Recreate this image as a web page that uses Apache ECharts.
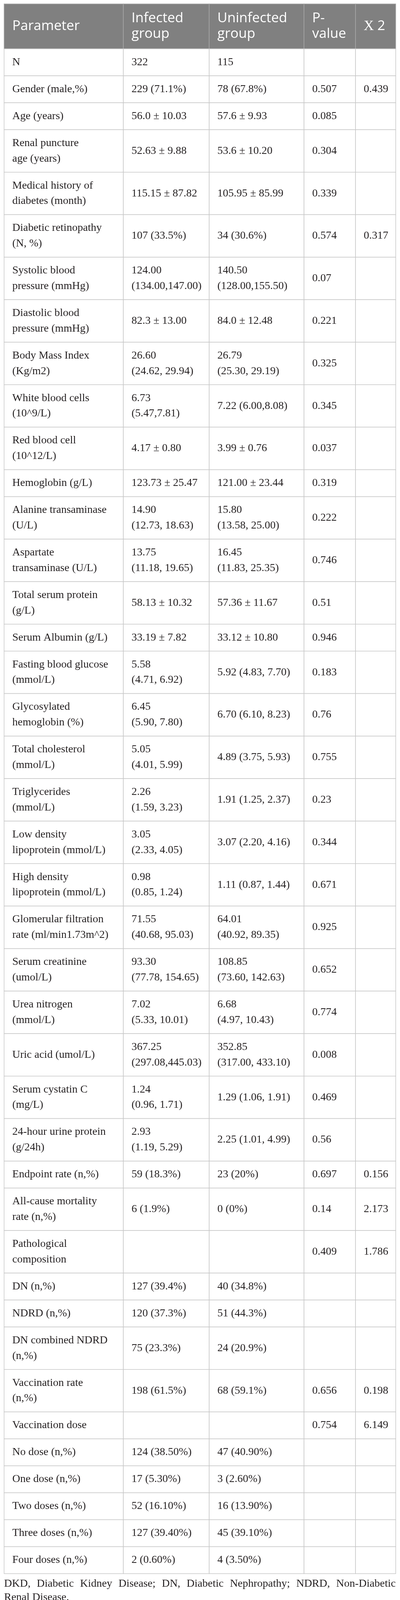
<!DOCTYPE html>
<html>
<head>
<meta charset="utf-8">
<script src="https://cdn.jsdelivr.net/npm/echarts@6/dist/echarts.min.js"></script>
<style>
  html, body { margin: 0; padding: 0; background: #fff; }
  #main { width: 1025px; height: 4113px; }
</style>
</head>
<body>
<div id="main"></div>
<script>
// table content
var headers = ['Parameter', 'Infected\ngroup', 'Uninfected\ngroup', 'P-\nvalue', '{chi|X} 2'];

var parameters = [
  'N', 'Gender (male,%)', 'Age (years)', 'Renal puncture\nage (years)',
  'Medical history of\ndiabetes (month)', 'Diabetic retinopathy\n(N, %)',
  'Systolic blood\npressure (mmHg)', 'Diastolic blood\npressure (mmHg)',
  'Body Mass Index\n(Kg/m2)', 'White blood cells\n(10^9/L)', 'Red blood cell\n(10^12/L)',
  'Hemoglobin (g/L)', 'Alanine transaminase\n(U/L)', 'Aspartate\ntransaminase (U/L)',
  'Total serum protein\n(g/L)', 'Serum Albumin (g/L)', 'Fasting blood glucose\n(mmol/L)',
  'Glycosylated\nhemoglobin (%)', 'Total cholesterol\n(mmol/L)', 'Triglycerides\n(mmol/L)',
  'Low density\nlipoprotein (mmol/L)', 'High density\nlipoprotein (mmol/L)',
  'Glomerular filtration\nrate (ml/min1.73m^2)', 'Serum creatinine\n(umol/L)',
  'Urea nitrogen\n(mmol/L)', 'Uric acid (umol/L)', 'Serum cystatin C\n(mg/L)',
  '24-hour urine protein\n(g/24h)', 'Endpoint rate (n,%)', 'All-cause mortality\nrate (n,%)',
  'Pathological\ncomposition', 'DN (n,%)', 'NDRD (n,%)', 'DN combined NDRD\n(n,%)',
  'Vaccination rate\n(n,%)', 'Vaccination dose', 'No dose (n,%)', 'One dose (n,%)',
  'Two doses (n,%)', 'Three doses (n,%)', 'Four doses (n,%)'
];

var infected = [
  '322', '229 (71.1%)', '56.0 ± 10.03', '52.63 ± 9.88', '115.15 ± 87.82', '107 (33.5%)',
  '124.00\n(134.00,147.00)', '82.3 ± 13.00', '26.60\n(24.62, 29.94)', '6.73\n(5.47,7.81)',
  '4.17 ± 0.80', '123.73 ± 25.47', '14.90\n(12.73, 18.63)', '13.75\n(11.18, 19.65)',
  '58.13 ± 10.32', '33.19 ± 7.82', '5.58\n(4.71, 6.92)', '6.45\n(5.90, 7.80)',
  '5.05\n(4.01, 5.99)', '2.26\n(1.59, 3.23)', '3.05\n(2.33, 4.05)', '0.98\n(0.85, 1.24)',
  '71.55\n(40.68, 95.03)', '93.30\n(77.78, 154.65)', '7.02\n(5.33, 10.01)',
  '367.25\n(297.08,445.03)', '1.24\n(0.96, 1.71)', '2.93\n(1.19, 5.29)', '59 (18.3%)',
  '6 (1.9%)', '', '127 (39.4%)', '120 (37.3%)', '75 (23.3%)', '198 (61.5%)', '',
  '124 (38.50%)', '17 (5.30%)', '52 (16.10%)', '127 (39.40%)', '2 (0.60%)'
];

var uninfected = [
  '115', '78 (67.8%)', '57.6 ± 9.93', '53.6 ± 10.20', '105.95 ± 85.99', '34 (30.6%)',
  '140.50\n(128.00,155.50)', '84.0 ± 12.48', '26.79\n(25.30, 29.19)', '7.22 (6.00,8.08)',
  '3.99 ± 0.76', '121.00 ± 23.44', '15.80\n(13.58, 25.00)', '16.45\n(11.83, 25.35)',
  '57.36 ± 11.67', '33.12 ± 10.80', '5.92 (4.83, 7.70)', '6.70 (6.10, 8.23)',
  '4.89 (3.75, 5.93)', '1.91 (1.25, 2.37)', '3.07 (2.20, 4.16)', '1.11 (0.87, 1.44)',
  '64.01\n(40.92, 89.35)', '108.85\n(73.60, 142.63)', '6.68\n(4.97, 10.43)',
  '352.85\n(317.00, 433.10)', '1.29 (1.06, 1.91)', '2.25 (1.01, 4.99)', '23 (20%)',
  '0 (0%)', '', '40 (34.8%)', '51 (44.3%)', '24 (20.9%)', '68 (59.1%)', '',
  '47 (40.90%)', '3 (2.60%)', '16 (13.90%)', '45 (39.10%)', '4 (3.50%)'
];

var pValues = [
  '', '0.507', '0.085', '0.304', '0.339', '0.574', '0.07', '0.221', '0.325', '0.345',
  '0.037', '0.319', '0.222', '0.746', '0.51', '0.946', '0.183', '0.76', '0.755', '0.23',
  '0.344', '0.671', '0.925', '0.652', '0.774', '0.008', '0.469', '0.56', '0.697', '0.14',
  '0.409', '', '', '', '0.656', '0.754', '', '', '', '', ''
];

var chiSquare = [
  '', '0.439', '', '', '', '0.317', '', '', '', '', '', '', '', '', '', '', '', '', '', '',
  '', '', '', '', '', '', '', '', '0.156', '2.173', '1.786', '', '', '', '0.198', '6.149',
  '', '', '', '', ''
];

var footnote = 'DKD, Diabetic Kidney Disease; DN, Diabetic Nephropathy; NDRD, Non-Diabetic\nRenal Disease.';

// layout (axis units == pixels)
var colEdges = [10.5, 316, 536, 779, 911, 1014];
var tableTop = 10;
var headerH = 115;
var lineH = 39.8;
var rowPad = 29.2;
var cellPad = 21;
var bodyFont = '28px "Liberation Serif"';
var headFont = '35px "Open Sans"';

var columns = [parameters, infected, uninfected, pValues, chiSquare];

// row edges from the number of text lines in each row
var rowEdges = [tableTop, tableTop + headerH];
for (var r = 0; r < parameters.length; r++) {
  var lines = 1;
  columns.forEach(function (col) {
    lines = Math.max(lines, col[r].split('\n').length);
  });
  rowEdges.push(rowEdges[rowEdges.length - 1] + rowPad + lineH * lines);
}

var cells = [];
headers.forEach(function (h, c) {
  cells.push({ value: [c, 0], text: h, head: true });
});
for (var i = 0; i < parameters.length; i++) {
  columns.forEach(function (col, c) {
    cells.push({ value: [c, i + 1], text: col[i], head: false });
  });
}

function renderCell(params, api) {
  var c = api.value(0), r = api.value(1);
  var cell = cells[params.dataIndex];
  var p0 = api.coord([colEdges[c], rowEdges[r]]);
  var p1 = api.coord([colEdges[c + 1], rowEdges[r + 1]]);
  return {
    type: 'group',
    children: [{
      type: 'rect',
      shape: { x: p0[0], y: p0[1], width: p1[0] - p0[0], height: p1[1] - p0[1] },
      style: {
        fill: cell.head ? '#808080' : '#fff',
        stroke: cell.head ? '#a6a6a6' : '#c8c8c8',
        lineWidth: 1.5
      }
    }, {
      type: 'text',
      style: {
        text: cell.text,
        x: p0[0] + cellPad,
        y: (p0[1] + p1[1]) / 2,
        align: 'left',
        verticalAlign: 'middle',
        font: cell.head ? headFont : bodyFont,
        fill: cell.head ? '#fff' : '#231f20',
        lineHeight: cell.head ? 40 : lineH,
        rich: {
          chi: { font: '36px "Liberation Serif"', fill: '#fff', lineHeight: 40 }
        }
      }
    }]
  };
}

// justified footnote, word by word
var ctx = document.createElement('canvas').getContext('2d');
ctx.font = bodyFont;
var noteTop = rowEdges[rowEdges.length - 1];
var noteWidth = colEdges[colEdges.length - 1] - colEdges[0];
var noteLines = footnote.split('\n');
var graphics = [];
noteLines.forEach(function (line, li) {
  var words = line.split(' ');
  var widths = words.map(function (w) { return ctx.measureText(w).width; });
  var sum = widths.reduce(function (a, b) { return a + b; }, 0);
  var last = li === noteLines.length - 1;
  var gap = last ? ctx.measureText(' ').width : (noteWidth - sum) / (words.length - 1);
  var x = colEdges[0];
  words.forEach(function (w, wi) {
    graphics.push({
      type: 'text',
      x: x,
      y: noteTop + 26 + li * 35,
      style: { text: w, font: bodyFont, fill: '#231f20', verticalAlign: 'middle' }
    });
    x += widths[wi] + gap;
  });
});

var chart = echarts.init(document.getElementById('main'));
chart.setOption({
  animation: false,
  backgroundColor: '#fff',
  grid: { left: 0, right: 0, top: 0, bottom: 0 },
  xAxis: { type: 'value', min: 0, max: 1025, show: false },
  yAxis: { type: 'value', min: 0, max: 4113, inverse: true, show: false },
  graphic: graphics,
  series: [{
    type: 'custom',
    renderItem: renderCell,
    data: cells,
    clip: false
  }]
});
</script>
</body>
</html>
